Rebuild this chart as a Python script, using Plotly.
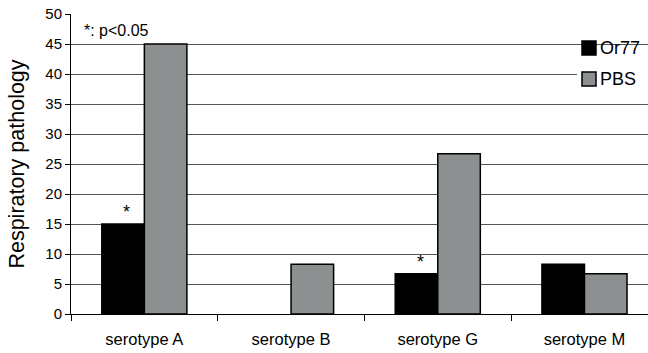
import plotly.graph_objects as go

categories = ["serotype A", "serotype B", "serotype G", "serotype M"]
or77_values = [15.0, 0.0, 6.7, 8.3]
pbs_values = [45.0, 8.3, 26.7, 6.7]
significant_or77 = ["serotype A", "serotype G"]

series_names = ["Or77", "PBS"]
series_colors = ["#000000", "#8c9091"]

FONT = "Liberation Sans, Arial, sans-serif"

# plot-area geometry in pixels, used to place the key in paper coordinates
L, R, T, B, W, H = 71, 0, 14, 39, 648, 353
PW, PH = W - L - R, H - T - B


def px_x(px):
    return (px - L) / PW


def px_y(py):
    return (H - B - py) / PH


fig = go.Figure()
for name, vals, col in zip(series_names, [or77_values, pbs_values], series_colors):
    fig.add_trace(go.Bar(
        name=name, x=categories, y=vals,
        marker=dict(color=col,
                    line=dict(color="#000000",
                              width=[1.5 if v > 0 else 0 for v in vals])),
    ))

# significance markers above the Or77 bars
for cat in significant_or77:
    v = or77_values[categories.index(cat)]
    fig.add_annotation(
        x=cat, y=v, xshift=-17.5, yshift=0, text="*", showarrow=False,
        yanchor="bottom", font=dict(family=FONT, size=18, color="#000"),
    )

fig.add_annotation(
    xref="paper", yref="paper", x=px_x(82), y=px_y(31), text="*: p<0.05",
    showarrow=False, xanchor="left", yanchor="middle",
    font=dict(family=FONT, size=16, color="#000"),
)

# key: white panel over the grid, then swatches and labels
fig.add_shape(type="rect", xref="paper", yref="paper",
              x0=px_x(577), x1=px_x(660), y0=px_y(101), y1=px_y(47),
              fillcolor="white", line=dict(width=0), layer="above")
for i, (name, col) in enumerate(zip(series_names, series_colors)):
    cy = 48 + 31 * i
    fig.add_shape(type="rect", xref="paper", yref="paper",
                  x0=px_x(582), x1=px_x(596), y0=px_y(cy + 7), y1=px_y(cy - 7),
                  fillcolor=col, line=dict(color="#000", width=1.5), layer="above")
    fig.add_annotation(
        xref="paper", yref="paper", x=px_x(598), y=px_y(cy), text=name,
        showarrow=False, xanchor="left", yanchor="middle",
        font=dict(family=FONT, size=18, color="#000"),
    )

fig.update_layout(
    width=W, height=H,
    margin=dict(l=L, r=R, t=T, b=B, autoexpand=False),
    paper_bgcolor="white", plot_bgcolor="white",
    barmode="group", bargap=0.42, bargroupgap=0,
    font=dict(family=FONT, color="#000"),
    showlegend=False,
    xaxis=dict(
        range=[-0.5, 3.433],
        showline=True, linecolor="#000", linewidth=1,
        ticks="outside", tickson="boundaries", ticklen=6, tickcolor="#000",
        tickfont=dict(family=FONT, size=16.5, color="#000"),
        ticklabelstandoff=10,
        showgrid=False, zeroline=False,
    ),
    yaxis=dict(
        range=[0, 50], dtick=5,
        showline=True, linecolor="#000", linewidth=1,
        ticks="outside", ticklen=5, tickcolor="#000",
        tickfont=dict(family=FONT, size=15, color="#000"),
        showgrid=True, gridcolor="#555", gridwidth=1,
        zeroline=False,
        title=dict(text="Respiratory pathology", standoff=14,
                   font=dict(family=FONT, size=21.5, color="#000")),
    ),
)

fig.write_html("out.html")
